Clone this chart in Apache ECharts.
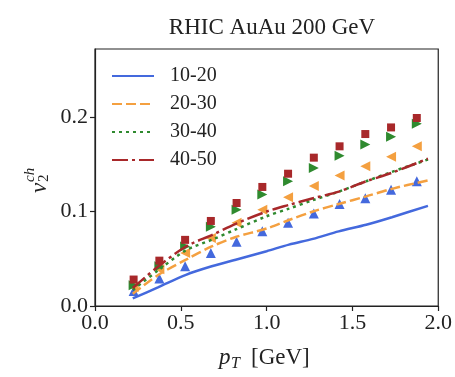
<!DOCTYPE html>
<html>
<head>
<meta charset="utf-8">
<script src="https://cdn.jsdelivr.net/npm/echarts@6/dist/echarts.min.js"></script>
<style>
  html, body { margin: 0; padding: 0; background: #fff; }
  #chart { width: 455px; height: 377px; }
</style>
</head>
<body>
<div id="chart"></div>
<script>
// model curves (pT in GeV)
const linePt = [0.22, 0.37, 0.53, 0.68, 0.82, 1.0, 1.13, 1.27, 1.42, 1.58, 1.73, 1.94];
const line1020 = [0.008, 0.020, 0.033, 0.042, 0.049, 0.058, 0.065, 0.071, 0.079, 0.086, 0.094, 0.106];
const line2030 = [0.013, 0.033, 0.049, 0.063, 0.073, 0.082, 0.091, 0.100, 0.108, 0.116, 0.124, 0.133];
const line3040 = [0.017, 0.038, 0.059, 0.070, 0.081, 0.095, 0.103, 0.112, 0.121, 0.132, 0.142, 0.155];
const line4050 = [0.019, 0.042, 0.063, 0.075, 0.087, 0.100, 0.107, 0.114, 0.121, 0.132, 0.141, 0.156];

// measured points
const dataPt = [0.225, 0.375, 0.525, 0.675, 0.825, 0.975, 1.125, 1.275, 1.425, 1.575, 1.725, 1.875];
const data1020 = [0.016, 0.029, 0.042, 0.056, 0.068, 0.079, 0.088, 0.098, 0.108, 0.114, 0.123, 0.132];
const data2030 = [0.020, 0.039, 0.056, 0.072, 0.088, 0.102, 0.115, 0.127, 0.138, 0.148, 0.158, 0.169];
const data3040 = [0.022, 0.042, 0.063, 0.084, 0.102, 0.118, 0.132, 0.146, 0.159, 0.171, 0.179, 0.193];
const data4050 = [0.028, 0.048, 0.070, 0.090, 0.109, 0.126, 0.140, 0.157, 0.169, 0.182, 0.189, 0.199];

const names = ['10-20', '20-30', '30-40', '40-50'];
const colors = ['#4469dd', '#f4a040', '#2f8a2f', '#a8282a'];
const xTicks = [0, 0.5, 1.0, 1.5, 2.0];
const yTicks = [0, 0.1, 0.2];

const FONT = '"Liberation Serif", "DejaVu Serif", serif';
const zip = (xs, ys) => xs.map((x, i) => [x, ys[i]]);

const chart = echarts.init(document.getElementById('chart'));

const lineDefs = [
  { d: line1020, type: 'solid' },
  { d: line2030, type: [10, 4] },
  { d: line3040, type: [3, 4] },
  { d: line4050, type: [16, 4, 3, 4] }
];
const dotDefs = [
  { d: data1020, symbol: 'triangle', rot: 0, size: 10 },
  { d: data2030, symbol: 'triangle', rot: 90, size: 10 },
  { d: data3040, symbol: 'triangle', rot: -90, size: 10 },
  { d: data4050, symbol: 'rect', rot: 0, size: 8 }
];

const series = [];
dotDefs.forEach((s, i) => {
  series.push({
    name: names[i] + ' data',
    type: 'scatter',
    data: zip(dataPt, s.d),
    symbol: s.symbol,
    symbolRotate: s.rot,
    symbolSize: s.size,
    itemStyle: { color: colors[i], opacity: 1 },
    z: 2
  });
});
lineDefs.forEach((s, i) => {
  series.push({
    name: names[i],
    type: 'line',
    data: zip(linePt, s.d),
    smooth: 0.3,
    showSymbol: false,
    symbol: 'none',
    lineStyle: { color: colors[i], width: 2.5, type: s.type },
    itemStyle: { color: colors[i] },
    z: 3
  });
});

chart.setOption({
  animation: false,
  title: {
    text: 'RHIC AuAu 200 GeV',
    left: 267, top: 11,
    textAlign: 'center',
    textStyle: { fontFamily: FONT, fontSize: 23, fontWeight: 'normal', color: '#222' }
  },
  legend: {
    data: names,
    orient: 'vertical',
    left: 106, top: 61,
    itemWidth: 42, itemHeight: 14, itemGap: 8,
    itemStyle: { opacity: 0 },
    textStyle: { fontFamily: FONT, fontSize: 20, color: '#222', lineHeight: 20, padding: [0, 0, 0, 11] }
  },
  grid: { left: 95, right: 15, top: 49, bottom: 71, show: true, borderColor: '#222', borderWidth: 1.2 },
  xAxis: {
    type: 'value', min: 0, max: 2.0, interval: 0.5,
    axisLine: { show: true, onZero: false, lineStyle: { color: '#222', width: 1.2 } },
    axisTick: { show: true, length: 5, lineStyle: { color: '#222', width: 1.2 } },
    axisLabel: {
      fontFamily: FONT, fontSize: 22, color: '#222', margin: 6,
      customValues: xTicks, formatter: v => v.toFixed(1)
    },
    splitLine: { show: false }
  },
  yAxis: {
    type: 'value', min: 0, max: 0.272,
    axisLine: { show: true, onZero: false, lineStyle: { color: '#222', width: 1.2 } },
    axisTick: { show: true, length: 5, customValues: yTicks, lineStyle: { color: '#222', width: 1.2 } },
    axisLabel: {
      fontFamily: FONT, fontSize: 22, color: '#222', margin: 7,
      customValues: yTicks, formatter: v => v.toFixed(1)
    },
    splitLine: { show: false }
  },
  graphic: [
    {
      type: 'group', left: 219, top: 346,
      children: [
        { type: 'text', x: 0, y: 0, style: { text: 'p', fontFamily: FONT, fontStyle: 'italic', fontSize: 23, fill: '#222' } },
        { type: 'text', x: 12, y: 10, style: { text: 'T', fontFamily: FONT, fontStyle: 'italic', fontSize: 16, fill: '#222' } },
        { type: 'text', x: 32, y: 0, style: { text: '[GeV]', fontFamily: FONT, fontSize: 23, fill: '#222' } }
      ]
    },
    {
      type: 'group', x: 28, y: 193, rotation: Math.PI / 2,
      children: [
        { type: 'text', x: 0, y: 0, style: { text: 'v', fontFamily: FONT, fontStyle: 'italic', fontSize: 23, fill: '#222' } },
        { type: 'text', x: 11, y: 9, style: { text: '2', fontFamily: FONT, fontSize: 15, fill: '#222' } },
        { type: 'text', x: 11, y: -5, style: { text: 'ch', fontFamily: FONT, fontStyle: 'italic', fontSize: 15, fill: '#222' } }
      ]
    }
  ],
  series: series
});
window.addEventListener('resize', () => chart.resize());
</script>
</body>
</html>
